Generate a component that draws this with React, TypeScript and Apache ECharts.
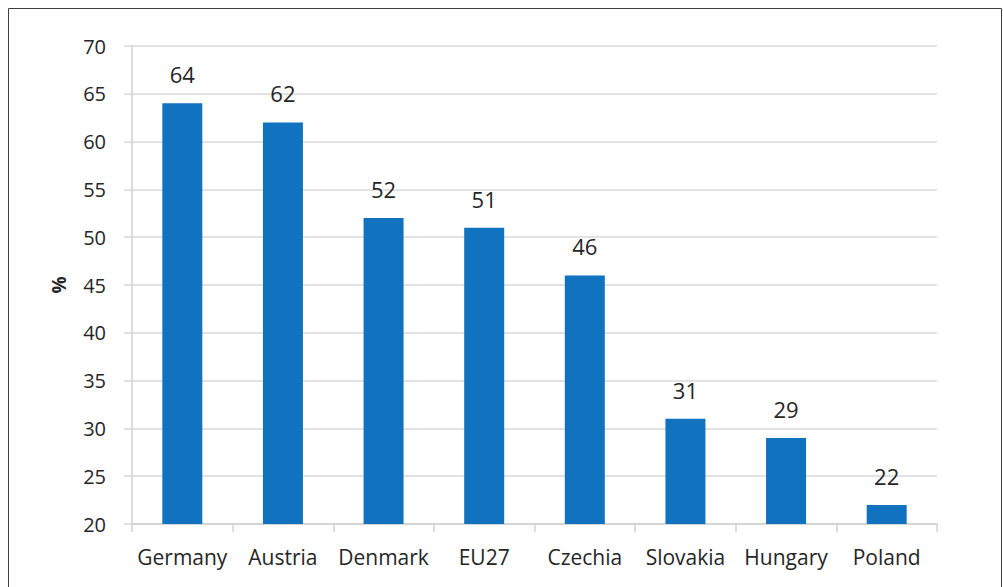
import React, { useEffect, useRef } from "react";
import * as echarts from "echarts";

const categories = ["Germany", "Austria", "Denmark", "EU27", "Czechia", "Slovakia", "Hungary", "Poland"];
const values = [64, 62, 52, 51, 46, 31, 29, 22];
const yMin = 20;
const yMax = 70;
const yStep = 5;
const yAxisTitle = "%";

export default function App() {
  const ref = useRef<HTMLDivElement>(null);
  useEffect(() => {
    if (!ref.current) return;
    const chart = echarts.init(ref.current, null, { renderer: "svg" });
    const font = "'Open Sans', 'Noto Sans', sans-serif";
    const textColor = "#262626";
    chart.setOption({
      animation: false,
      backgroundColor: "#ffffff",
      textStyle: { fontFamily: font },
      graphic: [
        {
          type: "rect",
          shape: { x: 8.5, y: 8.5, width: 993, height: 620 },
          style: { fill: "none", stroke: "#404040", lineWidth: 1 },
          silent: true,
        },
      ],
      grid: { left: 132, right: 66, top: 46, bottom: 63 },
      xAxis: {
        type: "category",
        data: categories,
        boundaryGap: true,
        axisLine: { show: true, lineStyle: { color: "#d0d0d0", width: 1.5 } },
        axisTick: { show: true, length: 8, alignWithLabel: false, interval: 0, lineStyle: { color: "#d0d0d0", width: 1.5 } },
        axisLabel: { color: textColor, fontSize: 21, margin: 22, interval: 0, hideOverlap: false, fontFamily: font },
        splitLine: { show: false },
      },
      yAxis: {
        type: "value",
        min: yMin,
        max: yMax,
        interval: yStep,
        name: yAxisTitle,
        nameLocation: "middle",
        nameGap: 64,
        nameRotate: 90,
        nameTextStyle: { color: textColor, fontSize: 19, fontWeight: "bold", fontFamily: font },
        axisLine: { show: true, lineStyle: { color: "#d0d0d0", width: 1.5 } },
        axisTick: { show: true, length: 8, lineStyle: { color: "#d9d9d9", width: 1.5 } },
        axisLabel: { color: textColor, fontSize: 20, margin: 26, fontFamily: font },
        splitLine: { show: true, lineStyle: { color: "#d9d9d9", width: 1.5 } },
      },
      series: [
        {
          type: "bar",
          data: values,
          barWidth: 40,
          itemStyle: { color: "#1172BF" },
          label: {
            show: true,
            position: "top",
            distance: 18,
            color: textColor,
            fontSize: 22,
            fontFamily: font,
          },
        },
      ],
    });
    return () => chart.dispose();
  }, []);
  return (
    <div
      ref={ref}
      style={{ position: "fixed", left: 0, top: 0, width: 1003, height: 587 }}
    />
  );
}
